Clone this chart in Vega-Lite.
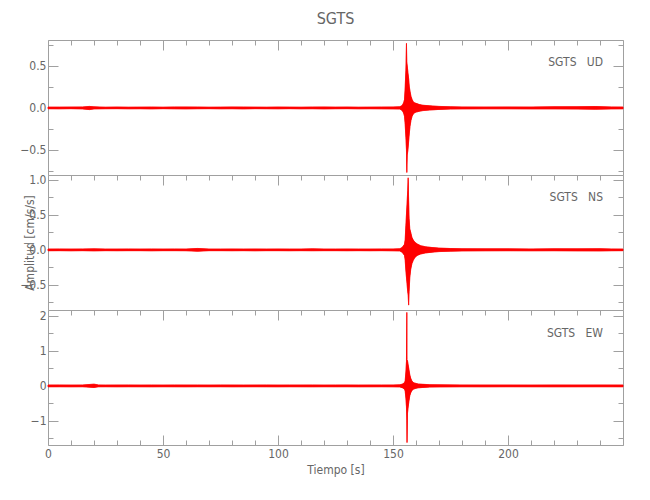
{
  "$schema": "https://vega.github.io/schema/vega-lite/v6.json",
  "autosize": {"type": "pad"},
  "padding": {"left": 19, "top": 11, "right": 27, "bottom": 5},
  "background": "white",
  "title": {"text": "SGTS", "fontSize": 16, "font": "Liberation Sans Narrow, DejaVu Sans Condensed, sans-serif", "color": "#666666", "fontWeight": "normal", "anchor": "middle", "frame": "group", "offset": -1, "baseline": "alphabetic"},
  "bounds": "flush",
  "spacing": 0,
  "config": {
    "view": {"stroke": null},
    "axis": {"domainColor": "#a0a0a0", "tickColor": "#a0a0a0", "labelColor": "#666666", "labelFont": "Liberation Sans Narrow, DejaVu Sans Condensed, sans-serif", "labelFontSize": 12, "titleFont": "Liberation Sans Narrow, DejaVu Sans Condensed, sans-serif", "titleFontSize": 12, "titleColor": "#666666", "titleFontWeight": "normal", "grid": false, "domainWidth": 1, "tickWidth": 1, "labelOverlap": false, "labelFlush": false}
  },
  "data": {"values": [
    {"c":"UD","t":0,"lo":-0.01,"hi":0.01},{"c":"UD","t":5,"lo":-0.011,"hi":0.01},{"c":"UD","t":10,"lo":-0.009,"hi":0.011},{"c":"UD","t":15,"lo":-0.012,"hi":0.012},{"c":"UD","t":18,"lo":-0.02,"hi":0.018},{"c":"UD","t":20,"lo":-0.012,"hi":0.013},{"c":"UD","t":25,"lo":-0.01,"hi":0.009},{"c":"UD","t":30,"lo":-0.009,"hi":0.011},{"c":"UD","t":35,"lo":-0.011,"hi":0.009},{"c":"UD","t":40,"lo":-0.01,"hi":0.01},{"c":"UD","t":45,"lo":-0.012,"hi":0.011},{"c":"UD","t":50,"lo":-0.009,"hi":0.009},{"c":"UD","t":55,"lo":-0.011,"hi":0.012},{"c":"UD","t":60,"lo":-0.012,"hi":0.012},{"c":"UD","t":65,"lo":-0.01,"hi":0.011},{"c":"UD","t":70,"lo":-0.009,"hi":0.009},{"c":"UD","t":75,"lo":-0.011,"hi":0.01},{"c":"UD","t":80,"lo":-0.01,"hi":0.012},{"c":"UD","t":85,"lo":-0.012,"hi":0.011},{"c":"UD","t":90,"lo":-0.009,"hi":0.01},{"c":"UD","t":95,"lo":-0.01,"hi":0.009},{"c":"UD","t":100,"lo":-0.011,"hi":0.011},{"c":"UD","t":105,"lo":-0.009,"hi":0.01},{"c":"UD","t":110,"lo":-0.011,"hi":0.009},{"c":"UD","t":115,"lo":-0.01,"hi":0.011},{"c":"UD","t":120,"lo":-0.012,"hi":0.012},{"c":"UD","t":125,"lo":-0.01,"hi":0.01},{"c":"UD","t":130,"lo":-0.009,"hi":0.011},{"c":"UD","t":135,"lo":-0.011,"hi":0.009},{"c":"UD","t":140,"lo":-0.01,"hi":0.01},{"c":"UD","t":145,"lo":-0.011,"hi":0.011},{"c":"UD","t":150,"lo":-0.012,"hi":0.012},{"c":"UD","t":153,"lo":-0.014,"hi":0.014},{"c":"UD","t":154,"lo":-0.03,"hi":0.03},{"c":"UD","t":154.6,"lo":-0.06,"hi":0.06},{"c":"UD","t":155,"lo":-0.1,"hi":0.1},{"c":"UD","t":155.3,"lo":-0.2,"hi":0.25},{"c":"UD","t":155.6,"lo":-0.35,"hi":0.45},{"c":"UD","t":155.85,"lo":-0.5,"hi":0.77},{"c":"UD","t":156,"lo":-0.77,"hi":0.55},{"c":"UD","t":156.2,"lo":-0.56,"hi":0.5},{"c":"UD","t":156.5,"lo":-0.5,"hi":0.42},{"c":"UD","t":156.8,"lo":-0.4,"hi":0.35},{"c":"UD","t":157.1,"lo":-0.3,"hi":0.25},{"c":"UD","t":157.4,"lo":-0.22,"hi":0.2},{"c":"UD","t":157.8,"lo":-0.15,"hi":0.14},{"c":"UD","t":158.3,"lo":-0.1,"hi":0.1},{"c":"UD","t":159,"lo":-0.065,"hi":0.065},{"c":"UD","t":160,"lo":-0.05,"hi":0.055},{"c":"UD","t":161.5,"lo":-0.04,"hi":0.04},{"c":"UD","t":163,"lo":-0.032,"hi":0.032},{"c":"UD","t":166,"lo":-0.025,"hi":0.025},{"c":"UD","t":170,"lo":-0.018,"hi":0.018},{"c":"UD","t":175,"lo":-0.014,"hi":0.014},{"c":"UD","t":180,"lo":-0.012,"hi":0.012},{"c":"UD","t":190,"lo":-0.011,"hi":0.011},{"c":"UD","t":200,"lo":-0.011,"hi":0.012},{"c":"UD","t":210,"lo":-0.012,"hi":0.011},{"c":"UD","t":220,"lo":-0.012,"hi":0.014},{"c":"UD","t":230,"lo":-0.014,"hi":0.015},{"c":"UD","t":238,"lo":-0.016,"hi":0.016},{"c":"UD","t":245,"lo":-0.012,"hi":0.012},{"c":"UD","t":250,"lo":-0.011,"hi":0.011},
    {"c":"NS","t":0,"lo":-0.013,"hi":0.012},{"c":"NS","t":5,"lo":-0.012,"hi":0.013},{"c":"NS","t":10,"lo":-0.014,"hi":0.012},{"c":"NS","t":15,"lo":-0.012,"hi":0.013},{"c":"NS","t":20,"lo":-0.015,"hi":0.014},{"c":"NS","t":25,"lo":-0.012,"hi":0.012},{"c":"NS","t":30,"lo":-0.013,"hi":0.012},{"c":"NS","t":35,"lo":-0.012,"hi":0.013},{"c":"NS","t":40,"lo":-0.012,"hi":0.012},{"c":"NS","t":45,"lo":-0.014,"hi":0.013},{"c":"NS","t":50,"lo":-0.012,"hi":0.012},{"c":"NS","t":55,"lo":-0.012,"hi":0.013},{"c":"NS","t":60,"lo":-0.013,"hi":0.012},{"c":"NS","t":65,"lo":-0.02,"hi":0.02},{"c":"NS","t":70,"lo":-0.012,"hi":0.012},{"c":"NS","t":75,"lo":-0.012,"hi":0.012},{"c":"NS","t":80,"lo":-0.013,"hi":0.013},{"c":"NS","t":85,"lo":-0.012,"hi":0.012},{"c":"NS","t":90,"lo":-0.014,"hi":0.013},{"c":"NS","t":95,"lo":-0.012,"hi":0.012},{"c":"NS","t":100,"lo":-0.012,"hi":0.013},{"c":"NS","t":105,"lo":-0.013,"hi":0.012},{"c":"NS","t":110,"lo":-0.012,"hi":0.012},{"c":"NS","t":115,"lo":-0.013,"hi":0.014},{"c":"NS","t":120,"lo":-0.012,"hi":0.012},{"c":"NS","t":125,"lo":-0.012,"hi":0.012},{"c":"NS","t":130,"lo":-0.013,"hi":0.013},{"c":"NS","t":135,"lo":-0.012,"hi":0.012},{"c":"NS","t":140,"lo":-0.013,"hi":0.012},{"c":"NS","t":145,"lo":-0.012,"hi":0.013},{"c":"NS","t":150,"lo":-0.014,"hi":0.013},{"c":"NS","t":153,"lo":-0.016,"hi":0.016},{"c":"NS","t":154,"lo":-0.035,"hi":0.035},{"c":"NS","t":155,"lo":-0.08,"hi":0.08},{"c":"NS","t":155.3,"lo":-0.15,"hi":0.15},{"c":"NS","t":155.6,"lo":-0.3,"hi":0.35},{"c":"NS","t":156,"lo":-0.45,"hi":0.6},{"c":"NS","t":156.4,"lo":-0.6,"hi":0.85},{"c":"NS","t":156.6,"lo":-0.65,"hi":1.03},{"c":"NS","t":156.8,"lo":-0.79,"hi":0.7},{"c":"NS","t":157,"lo":-0.6,"hi":0.45},{"c":"NS","t":157.3,"lo":-0.4,"hi":0.3},{"c":"NS","t":157.7,"lo":-0.28,"hi":0.25},{"c":"NS","t":158.2,"lo":-0.2,"hi":0.18},{"c":"NS","t":158.8,"lo":-0.15,"hi":0.14},{"c":"NS","t":159.5,"lo":-0.11,"hi":0.11},{"c":"NS","t":160.5,"lo":-0.08,"hi":0.085},{"c":"NS","t":162,"lo":-0.06,"hi":0.06},{"c":"NS","t":164,"lo":-0.045,"hi":0.045},{"c":"NS","t":167,"lo":-0.033,"hi":0.033},{"c":"NS","t":170,"lo":-0.025,"hi":0.025},{"c":"NS","t":175,"lo":-0.019,"hi":0.019},{"c":"NS","t":180,"lo":-0.016,"hi":0.016},{"c":"NS","t":190,"lo":-0.014,"hi":0.014},{"c":"NS","t":200,"lo":-0.013,"hi":0.014},{"c":"NS","t":210,"lo":-0.014,"hi":0.013},{"c":"NS","t":220,"lo":-0.013,"hi":0.015},{"c":"NS","t":230,"lo":-0.015,"hi":0.014},{"c":"NS","t":240,"lo":-0.016,"hi":0.017},{"c":"NS","t":245,"lo":-0.013,"hi":0.013},{"c":"NS","t":250,"lo":-0.012,"hi":0.012},
    {"c":"EW","t":0,"lo":-0.026,"hi":0.026},{"c":"EW","t":5,"lo":-0.025,"hi":0.027},{"c":"EW","t":10,"lo":-0.027,"hi":0.025},{"c":"EW","t":15,"lo":-0.025,"hi":0.026},{"c":"EW","t":20,"lo":-0.045,"hi":0.05},{"c":"EW","t":22,"lo":-0.026,"hi":0.027},{"c":"EW","t":25,"lo":-0.025,"hi":0.025},{"c":"EW","t":30,"lo":-0.027,"hi":0.026},{"c":"EW","t":35,"lo":-0.025,"hi":0.027},{"c":"EW","t":40,"lo":-0.026,"hi":0.025},{"c":"EW","t":45,"lo":-0.027,"hi":0.026},{"c":"EW","t":50,"lo":-0.025,"hi":0.025},{"c":"EW","t":55,"lo":-0.026,"hi":0.027},{"c":"EW","t":60,"lo":-0.027,"hi":0.026},{"c":"EW","t":65,"lo":-0.025,"hi":0.026},{"c":"EW","t":70,"lo":-0.026,"hi":0.025},{"c":"EW","t":75,"lo":-0.025,"hi":0.027},{"c":"EW","t":80,"lo":-0.027,"hi":0.026},{"c":"EW","t":85,"lo":-0.026,"hi":0.025},{"c":"EW","t":90,"lo":-0.025,"hi":0.026},{"c":"EW","t":95,"lo":-0.026,"hi":0.027},{"c":"EW","t":100,"lo":-0.027,"hi":0.025},{"c":"EW","t":105,"lo":-0.025,"hi":0.026},{"c":"EW","t":110,"lo":-0.026,"hi":0.026},{"c":"EW","t":115,"lo":-0.027,"hi":0.027},{"c":"EW","t":120,"lo":-0.025,"hi":0.025},{"c":"EW","t":125,"lo":-0.026,"hi":0.026},{"c":"EW","t":130,"lo":-0.025,"hi":0.027},{"c":"EW","t":135,"lo":-0.027,"hi":0.025},{"c":"EW","t":140,"lo":-0.026,"hi":0.026},{"c":"EW","t":145,"lo":-0.025,"hi":0.026},{"c":"EW","t":150,"lo":-0.027,"hi":0.027},{"c":"EW","t":153,"lo":-0.03,"hi":0.03},{"c":"EW","t":154,"lo":-0.05,"hi":0.05},{"c":"EW","t":155,"lo":-0.09,"hi":0.09},{"c":"EW","t":155.3,"lo":-0.15,"hi":0.15},{"c":"EW","t":155.6,"lo":-0.35,"hi":0.4},{"c":"EW","t":155.85,"lo":-0.6,"hi":0.7},{"c":"EW","t":156,"lo":-1.0,"hi":2.1},{"c":"EW","t":156.1,"lo":-1.62,"hi":0.75},{"c":"EW","t":156.3,"lo":-0.78,"hi":0.72},{"c":"EW","t":156.6,"lo":-0.6,"hi":0.6},{"c":"EW","t":156.9,"lo":-0.45,"hi":0.48},{"c":"EW","t":157.3,"lo":-0.28,"hi":0.32},{"c":"EW","t":157.7,"lo":-0.2,"hi":0.22},{"c":"EW","t":158.2,"lo":-0.13,"hi":0.14},{"c":"EW","t":159,"lo":-0.09,"hi":0.09},{"c":"EW","t":160,"lo":-0.07,"hi":0.07},{"c":"EW","t":161,"lo":-0.055,"hi":0.055},{"c":"EW","t":163,"lo":-0.045,"hi":0.045},{"c":"EW","t":166,"lo":-0.035,"hi":0.035},{"c":"EW","t":170,"lo":-0.03,"hi":0.03},{"c":"EW","t":180,"lo":-0.026,"hi":0.027},{"c":"EW","t":190,"lo":-0.027,"hi":0.026},{"c":"EW","t":200,"lo":-0.025,"hi":0.026},{"c":"EW","t":210,"lo":-0.026,"hi":0.025},{"c":"EW","t":220,"lo":-0.027,"hi":0.027},{"c":"EW","t":230,"lo":-0.026,"hi":0.026},{"c":"EW","t":240,"lo":-0.025,"hi":0.027},{"c":"EW","t":250,"lo":-0.026,"hi":0.026}
  ]},
  "vconcat": [
    {
      "width": 575, "height": 135,
      "title": {"text": "SGTS\u00a0\u00a0\u00a0UD", "anchor": "end", "frame": "group", "orient": "top", "offset": 0, "dx": -20, "dy": 39, "baseline": "alphabetic", "fontSize": 12, "font": "Liberation Sans Narrow, DejaVu Sans Condensed, sans-serif", "color": "#666666", "fontWeight": "normal"},
      "transform": [{"filter": "datum.c === 'UD'"}],
      "layer": [
        {"mark": {"type": "area", "color": "#ff0000", "stroke": "#ff0000", "strokeWidth": 0.5},
         "encoding": {
           "x": {"field": "t", "type": "quantitative", "scale": {"domain": [0, 250], "nice": false, "zero": false},
                 "axis": {"orient": "top", "labels": false, "title": null, "values": [0,10,20,30,40,50,60,70,80,90,100,110,120,130,140,150,160,170,180,190,200,210,220,230,240,250], "tickSize": {"condition": {"test": "datum.value % 50 === 0", "value": -10}, "value": -5}}},
           "y": {"field": "lo", "type": "quantitative", "scale": {"domain": [-0.8, 0.81], "nice": false, "zero": false},
                 "axis": {"orient": "left", "title": null, "values": [-0.75,-0.5,-0.25,0,0.25,0.5,0.75], "labelExpr": "datum.value % 0.5 === 0 ? format(datum.value, '.1f') : ''", "labelPadding": 12, "tickSize": {"condition": {"test": "datum.value % 0.5 === 0", "value": -10}, "value": -5}}},
           "y2": {"field": "hi"}
         }},
        {"mark": {"type": "area", "color": "#ff0000", "stroke": "#ff0000", "strokeWidth": 0.5},
         "encoding": {
           "x": {"field": "t", "type": "quantitative", "axis": null},
           "y": {"field": "lo", "type": "quantitative",
                 "axis": {"orient": "right", "labels": false, "title": null, "values": [-0.75,-0.5,-0.25,0,0.25,0.5,0.75], "tickSize": {"condition": {"test": "datum.value % 0.5 === 0", "value": -10}, "value": -5}}},
           "y2": {"field": "hi"}
         }}
      ],
      "resolve": {"axis": {"x": "independent", "y": "independent"}}
    },
    {
      "width": 575, "height": 135,
      "title": {"text": "SGTS\u00a0\u00a0\u00a0NS", "anchor": "end", "frame": "group", "orient": "top", "offset": 0, "dx": -20, "dy": 39, "baseline": "alphabetic", "fontSize": 12, "font": "Liberation Sans Narrow, DejaVu Sans Condensed, sans-serif", "color": "#666666", "fontWeight": "normal"},
      "transform": [{"filter": "datum.c === 'NS'"}],
      "layer": [
        {"mark": {"type": "area", "color": "#ff0000", "stroke": "#ff0000", "strokeWidth": 0.5},
         "encoding": {
           "x": {"field": "t", "type": "quantitative", "scale": {"domain": [0, 250], "nice": false, "zero": false},
                 "axis": {"orient": "top", "labels": false, "title": null, "values": [0,10,20,30,40,50,60,70,80,90,100,110,120,130,140,150,160,170,180,190,200,210,220,230,240,250], "tickSize": {"condition": {"test": "datum.value % 50 === 0", "value": -10}, "value": -5}}},
           "y": {"field": "lo", "type": "quantitative", "scale": {"domain": [-0.86, 1.07], "nice": false, "zero": false},
                 "axis": {"orient": "left", "title": "Amplitud [cm/s/s]", "titleX": -15, "titleY": 67.5, "titleAngle": -90, "titleAlign": "center", "titleBaseline": "alphabetic", "values": [-0.75,-0.5,-0.25,0,0.25,0.5,0.75,1], "labelExpr": "datum.value % 0.5 === 0 ? format(datum.value, '.1f') : ''", "labelPadding": 12, "tickSize": {"condition": {"test": "datum.value % 0.5 === 0", "value": -10}, "value": -5}}},
           "y2": {"field": "hi"}
         }},
        {"mark": {"type": "area", "color": "#ff0000", "stroke": "#ff0000", "strokeWidth": 0.5},
         "encoding": {
           "x": {"field": "t", "type": "quantitative", "axis": null},
           "y": {"field": "lo", "type": "quantitative",
                 "axis": {"orient": "right", "labels": false, "title": null, "values": [-0.75,-0.5,-0.25,0,0.25,0.5,0.75,1], "tickSize": {"condition": {"test": "datum.value % 0.5 === 0", "value": -10}, "value": -5}}},
           "y2": {"field": "hi"}
         }}
      ],
      "resolve": {"axis": {"x": "independent", "y": "independent"}}
    },
    {
      "width": 575, "height": 135,
      "title": {"text": "SGTS\u00a0\u00a0\u00a0EW", "anchor": "end", "frame": "group", "orient": "top", "offset": 0, "dx": -20, "dy": 39, "baseline": "alphabetic", "fontSize": 12, "font": "Liberation Sans Narrow, DejaVu Sans Condensed, sans-serif", "color": "#666666", "fontWeight": "normal"},
      "transform": [{"filter": "datum.c === 'EW'"}],
      "layer": [
        {"mark": {"type": "area", "color": "#ff0000", "stroke": "#ff0000", "strokeWidth": 0.5},
         "encoding": {
           "x": {"field": "t", "type": "quantitative", "scale": {"domain": [0, 250], "nice": false, "zero": false},
                 "axis": {"orient": "top", "labels": false, "title": null, "values": [0,10,20,30,40,50,60,70,80,90,100,110,120,130,140,150,160,170,180,190,200,210,220,230,240,250], "tickSize": {"condition": {"test": "datum.value % 50 === 0", "value": -10}, "value": -5}}},
           "y": {"field": "lo", "type": "quantitative", "scale": {"domain": [-1.69, 2.17], "nice": false, "zero": false},
                 "axis": {"orient": "left", "title": null, "values": [-1.5,-1,-0.5,0,0.5,1,1.5,2], "labelExpr": "datum.value % 1 === 0 ? format(datum.value, 'd') : ''", "labelPadding": 12, "tickSize": {"condition": {"test": "datum.value % 1 === 0", "value": -10}, "value": -5}}},
           "y2": {"field": "hi"}
         }},
        {"mark": {"type": "area", "color": "#ff0000", "stroke": "#ff0000", "strokeWidth": 0.5},
         "encoding": {
           "x": {"field": "t", "type": "quantitative",
                 "axis": {"orient": "bottom", "title": "Tiempo [s]", "titlePadding": 0, "values": [0,10,20,30,40,50,60,70,80,90,100,110,120,130,140,150,160,170,180,190,200,210,220,230,240,250], "labelExpr": "datum.value % 50 === 0 && datum.value < 250 ? format(datum.value, 'd') : ''", "labelPadding": 13, "tickSize": {"condition": {"test": "datum.value % 50 === 0", "value": -10}, "value": -5}}},
           "y": {"field": "lo", "type": "quantitative",
                 "axis": {"orient": "right", "labels": false, "title": null, "values": [-1.5,-1,-0.5,0,0.5,1,1.5,2], "tickSize": {"condition": {"test": "datum.value % 1 === 0", "value": -10}, "value": -5}}},
           "y2": {"field": "hi"}
         }}
      ],
      "resolve": {"axis": {"x": "independent", "y": "independent"}}
    }
  ]
}
